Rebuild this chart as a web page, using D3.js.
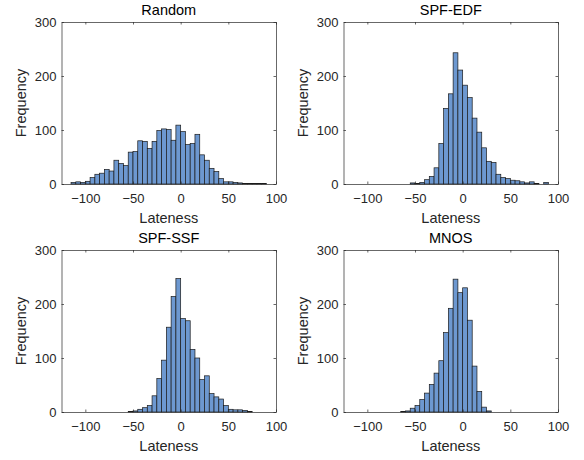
<!DOCTYPE html>
<html>
<head>
<meta charset="utf-8">
<script src="https://cdn.jsdelivr.net/npm/d3@7"></script>
<style>
  body { margin: 0; background: #fff; }
  svg { display: block; }
  text { font-family: Arial, "Liberation Sans", Helvetica, sans-serif; }
</style>
</head>
<body>
<svg id="chart" width="584" height="460"></svg>
<script>
// panel titles
const titles = ['Random', 'SPF-EDF', 'SPF-SSF', 'MNOS'];

// histogram counts, bin width 5, first left edge given in *Start
const binWidth = 5;
const randomStart = -115;
const randomCounts = [3, 4, 3, 5, 12, 18, 20, 27, 24, 44, 38, 34, 59, 60, 80, 79, 66, 79, 99, 102, 101, 81, 109,
  97, 73, 75, 92, 54, 44, 29, 23, 10, 4, 4, 3, 2, 1, 1, 1, 1, 1];
const spfEdfStart = -55;
const spfEdfCounts = [2, 1, 3, 8, 14, 30, 75, 140, 167, 243, 211,
  183, 160, 122, 96, 67, 42, 40, 18, 12, 10, 7, 6, 4, 2, 4, 1, 0, 3];
const spfSsfStart = -55;
const spfSsfCounts = [1, 2, 5, 8, 12, 30, 62, 96, 157, 214, 247,
  173, 169, 116, 100, 60, 67, 34, 28, 24, 12, 5, 4, 4, 3, 1];
const mnosStart = -65;
const mnosCounts = [1, 2, 7, 12, 23, 35, 51, 72, 95, 147, 192, 246, 221,
  230, 170, 85, 38, 9, 2];

// axes
const xDomain = [-125, 100];
const yDomain = [0, 300];
const xTicks = [-100, -50, 0, 50, 100];
const yTicks = [0, 100, 200, 300];
const xLabel = 'Lateness';
const yLabel = 'Frequency';

const starts = [randomStart, spfEdfStart, spfSsfStart, mnosStart];
const counts = [randomCounts, spfEdfCounts, spfSsfCounts, mnosCounts];

const svg = d3.select('#chart');
svg.append('rect').attr('width', 584).attr('height', 460).attr('fill', '#fff');

const panelW = 214.5;
const panelH = 162;
const origins = [[61.5, 22], [343.5, 22], [61.5, 250], [343.5, 250]];
const axisColor = '#262626';

titles.forEach((title, k) => {
  const [ox, oy] = origins[k];
  const g = svg.append('g').attr('transform', `translate(${ox},${oy})`);

  const x = d3.scaleLinear().domain(xDomain).range([0, panelW]);
  const y = d3.scaleLinear().domain(yDomain).range([panelH, 0]);

  const bins = counts[k].map((c, i) => ({ x0: starts[k] + i * binWidth, x1: starts[k] + (i + 1) * binWidth, n: c }))
    .filter((d) => d.n > 0);

  g.selectAll('rect.bar')
    .data(bins)
    .enter()
    .append('rect')
    .attr('class', 'bar')
    .attr('x', (d) => x(d.x0))
    .attr('width', (d) => x(d.x1) - x(d.x0))
    .attr('y', (d) => y(d.n))
    .attr('height', (d) => y(0) - y(d.n))
    .attr('fill', '#6d98d0')
    .attr('stroke', '#1a1a1a')
    .attr('stroke-width', 0.7);

  // axes with inward ticks on all four sides
  const bottom = g.append('g')
    .attr('transform', `translate(0,${panelH})`)
    .call(d3.axisBottom(x).tickValues(xTicks).tickSizeInner(-2.5).tickSizeOuter(0).tickPadding(10));
  const left = g.append('g')
    .call(d3.axisLeft(y).tickValues(yTicks).tickSizeInner(-2.5).tickSizeOuter(0).tickPadding(5));
  g.append('g')
    .call(d3.axisTop(x).tickValues(xTicks).tickSizeInner(-2.5).tickSizeOuter(0).tickFormat(''));
  g.append('g')
    .attr('transform', `translate(${panelW},0)`)
    .call(d3.axisRight(y).tickValues(yTicks).tickSizeInner(-2.5).tickSizeOuter(0).tickFormat(''));

  g.selectAll('.domain').attr('stroke', axisColor).attr('stroke-width', 0.7);
  g.selectAll('.tick line').attr('stroke', axisColor).attr('stroke-width', 0.7);
  bottom.selectAll('text').attr('font-size', 13).attr('fill', axisColor);
  left.selectAll('text').attr('font-size', 13).attr('fill', axisColor).attr('dy', '0.34em');

  g.append('text')
    .attr('x', panelW / 2)
    .attr('y', -7)
    .attr('text-anchor', 'middle')
    .attr('font-size', 14.5)
    .attr('fill', '#000')
    .text(title);

  g.append('text')
    .attr('x', panelW / 2)
    .attr('y', panelH + 38.5)
    .attr('text-anchor', 'middle')
    .attr('font-size', 14.5)
    .attr('fill', axisColor)
    .text(xLabel);

  g.append('text')
    .attr('transform', `translate(-35.5,${panelH / 2}) rotate(-90)`)
    .attr('text-anchor', 'middle')
    .attr('font-size', 14.5)
    .attr('fill', axisColor)
    .text(yLabel);
});
</script>
</body>
</html>
